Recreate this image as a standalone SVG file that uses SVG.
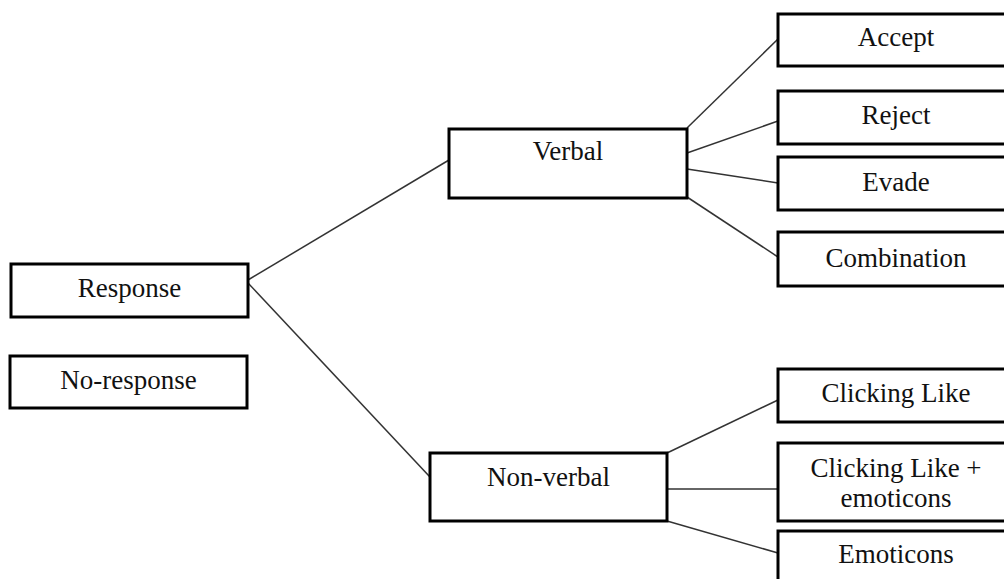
<svg xmlns="http://www.w3.org/2000/svg" width="1004" height="579" viewBox="0 0 1004 579">
<style>
.box{fill:#fff;stroke:#000;stroke-width:3}
.lbl{font-family:"Liberation Serif","Times New Roman",serif;font-size:27px;fill:#111;text-anchor:middle}
.con line{stroke:#333;stroke-width:1.5}
</style>
<rect width="1004" height="579" fill="#fff"/>
<g class="con" id="connectors">
<line x1="248" y1="280" x2="449" y2="160"/>
<line x1="248" y1="283" x2="430" y2="477"/>
<line x1="687" y1="128" x2="778" y2="39"/>
<line x1="687" y1="153" x2="778" y2="121"/>
<line x1="687" y1="169" x2="778" y2="183"/>
<line x1="687" y1="197" x2="778" y2="257"/>
<line x1="667" y1="453" x2="778" y2="400"/>
<line x1="667" y1="489" x2="778" y2="489"/>
<line x1="667" y1="521" x2="778" y2="553"/>
</g>
<g id="response"><rect class="box" x="11" y="264" width="237" height="53"/><text class="lbl" x="129.5" y="297">Response</text></g>
<g id="no-response"><rect class="box" x="10" y="356" width="237" height="52"/><text class="lbl" x="128.5" y="389">No-response</text></g>
<g id="verbal"><rect class="box" x="449" y="129" width="238" height="69"/><text class="lbl" x="568" y="160">Verbal</text></g>
<g id="non-verbal"><rect class="box" x="430" y="453" width="237" height="68"/><text class="lbl" x="548.5" y="486">Non-verbal</text></g>
<g id="accept"><rect class="box" x="778" y="14" width="236" height="52"/><text class="lbl" x="896" y="46">Accept</text></g>
<g id="reject"><rect class="box" x="778" y="91" width="236" height="53"/><text class="lbl" x="896" y="124">Reject</text></g>
<g id="evade"><rect class="box" x="778" y="157" width="236" height="53"/><text class="lbl" x="896" y="191">Evade</text></g>
<g id="combination"><rect class="box" x="778" y="232" width="236" height="54"/><text class="lbl" x="896" y="267">Combination</text></g>
<g id="clicking-like"><rect class="box" x="778" y="369" width="236" height="53"/><text class="lbl" x="896" y="402">Clicking Like</text></g>
<g id="clicking-like-emoticons"><rect class="box" x="778" y="443" width="236" height="78"/><text class="lbl" x="896" y="477">Clicking Like +</text><text class="lbl" x="896" y="507">emoticons</text></g>
<g id="emoticons"><rect class="box" x="778" y="531" width="236" height="60"/><text class="lbl" x="896" y="563">Emoticons</text></g>
</svg>
